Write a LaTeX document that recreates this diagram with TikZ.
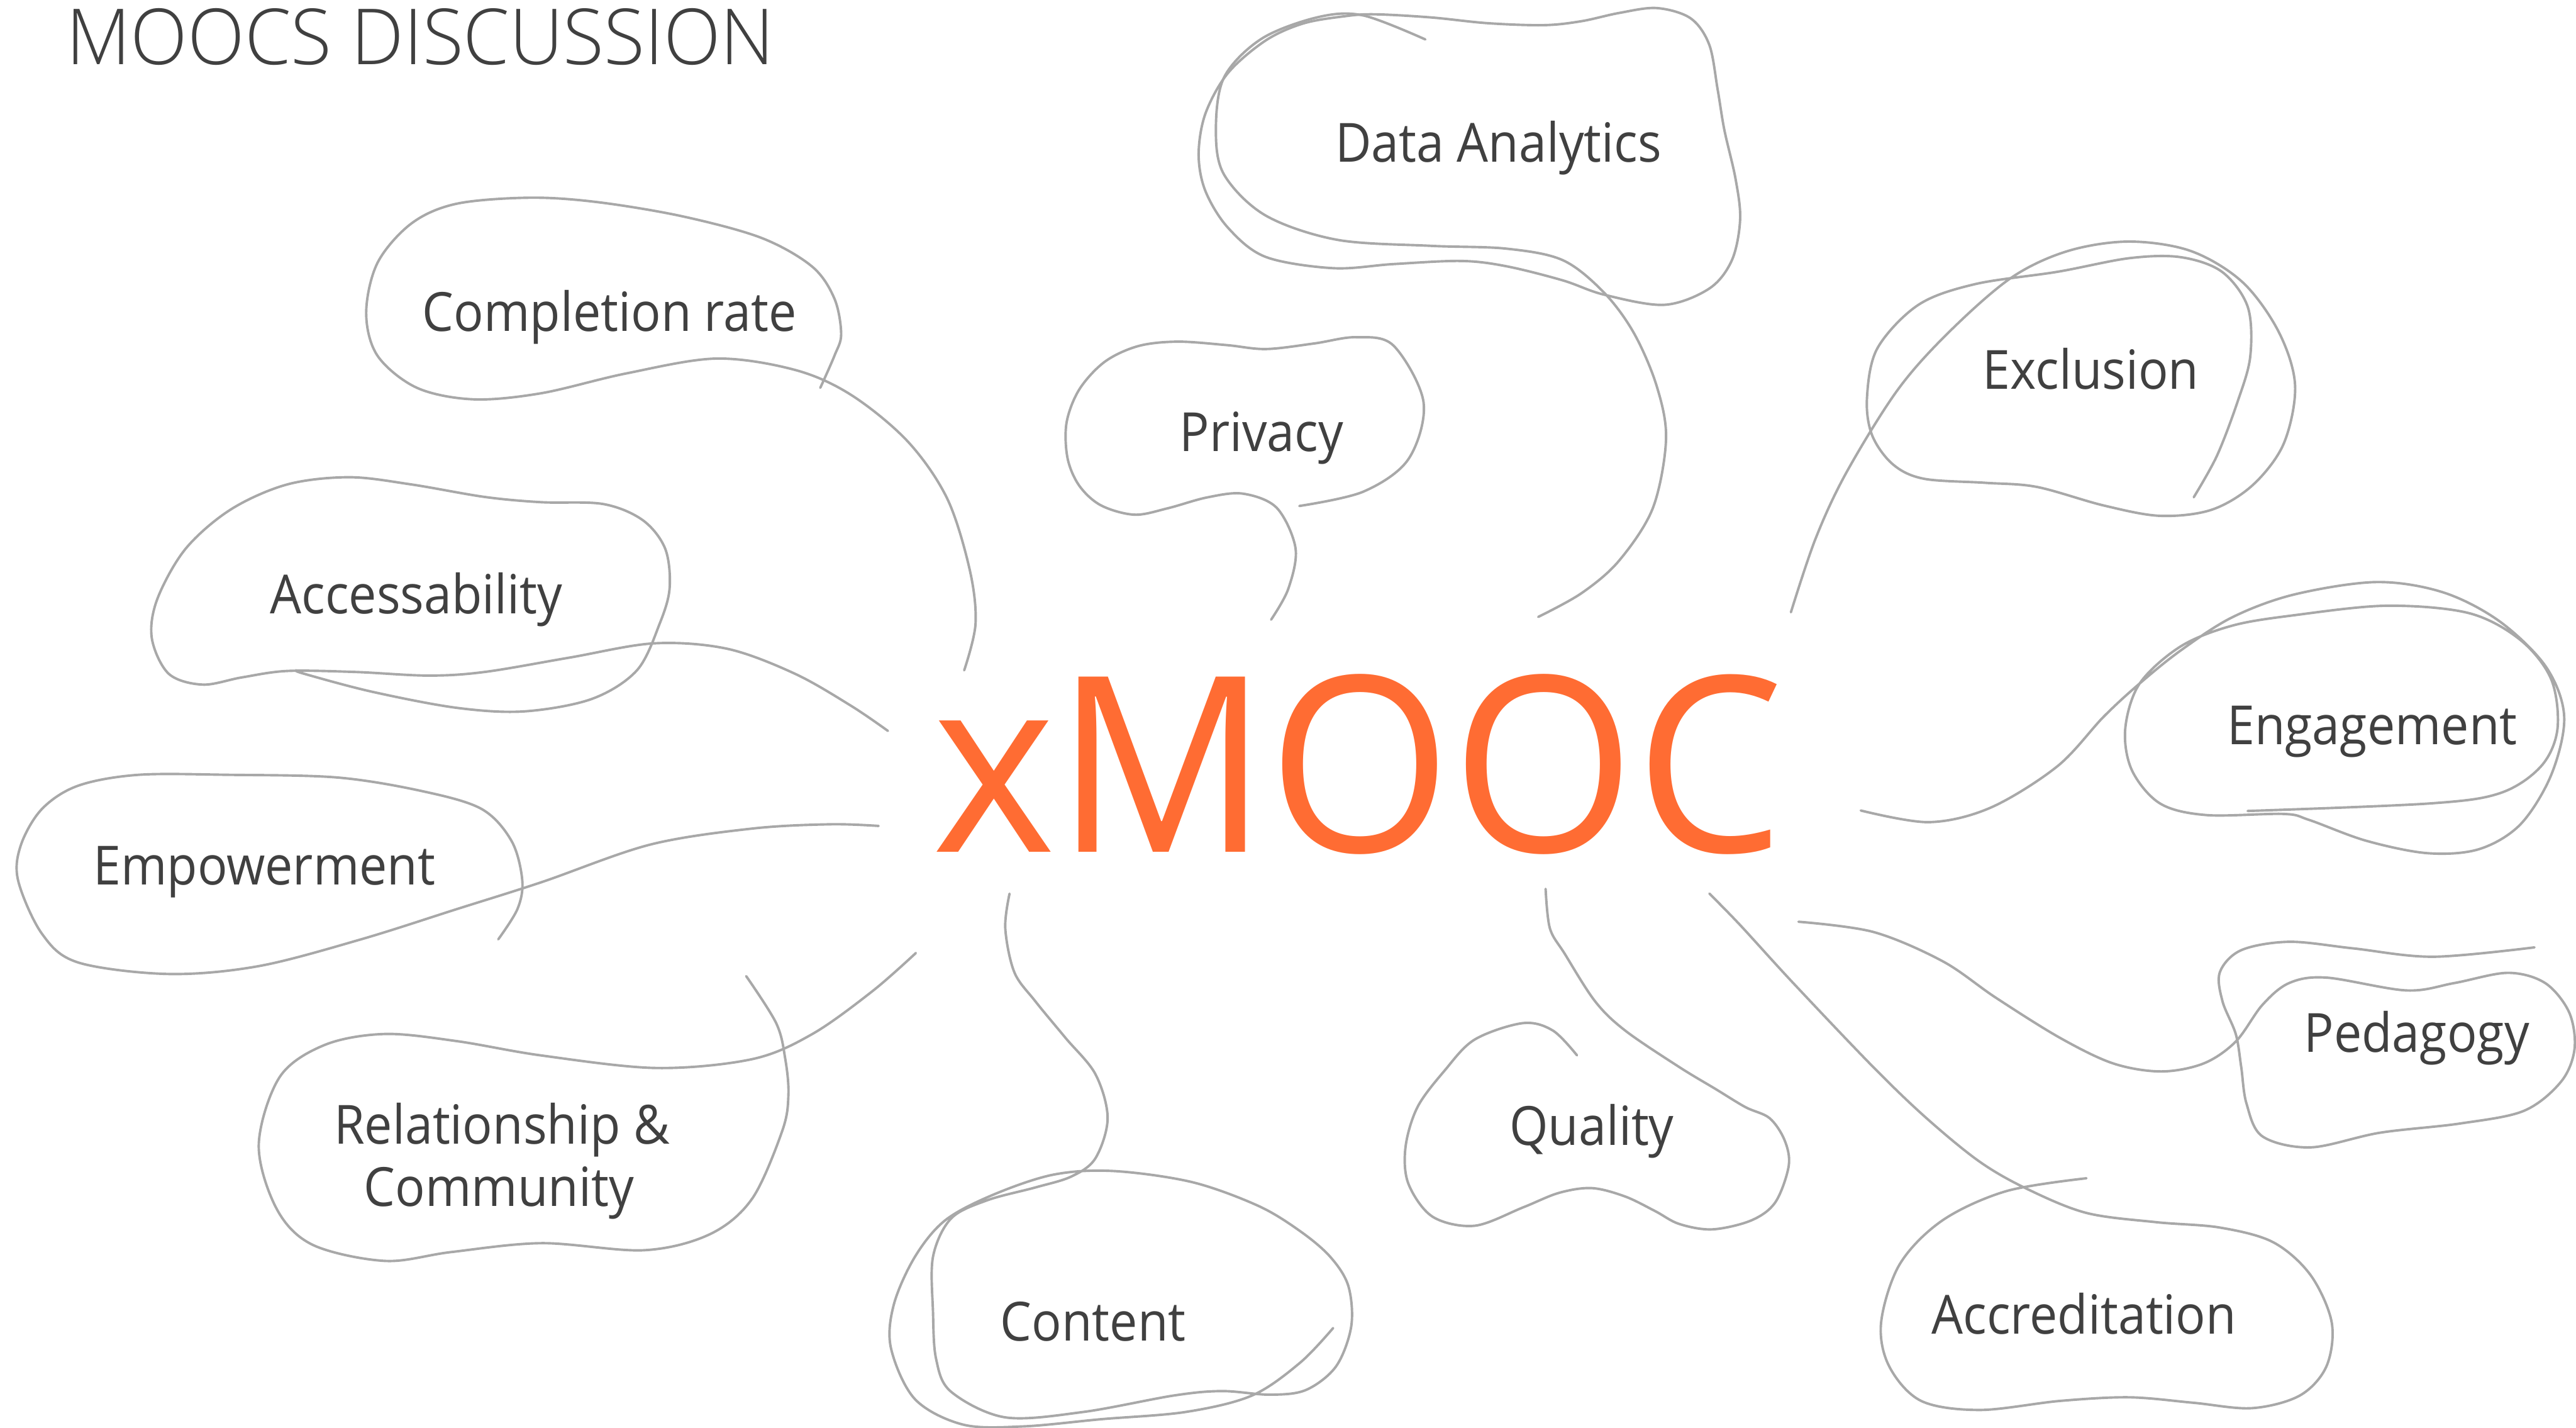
\documentclass[tikz,border=0pt]{standalone}
\usepackage{fontspec}
\setmainfont{Open Sans}
\newfontfamily\lblfont[FakeStretch=0.92]{Open Sans}
\newfontfamily\titlefont[FakeStretch=0.965]{Open Sans Light}
\newfontfamily\herofont[FakeStretch=0.96]{Open Sans}
\definecolor{linegray}{HTML}{A8A8A8}
\definecolor{textgray}{HTML}{404040}
\definecolor{moocorange}{HTML}{FF6C33}
\tikzset{
  sketch/.style={draw=linegray, line width=0.85pt, line cap=round, line join=round},
  lbl/.style={anchor=base west, inner sep=0pt, outer sep=0pt, text=textgray,
              font=\lblfont\fontsize{18.7}{22}\selectfont},
}
\begin{document}
\begin{tikzpicture}[x=0.02cm, y=-0.02cm]
\useasboundingbox (0,0) rectangle (1568,868.7);

% heading and centre word
\node[anchor=base west, inner sep=0pt, text=textgray,
      font=\titlefont\fontsize{26.8}{30}\selectfont] (title) at (40,39.2) {MOOCS DISCUSSION};
\node[anchor=base west, inner sep=0pt, text=moocorange,
      font=\herofont\fontsize{85}{90}\selectfont] (xmooc) at (567,518.7) {xMOOC};

% topic labels
\node[lbl] (data)   at (812.7,98.4)  {Data Analytics};
\node[lbl] (priv)   at (718.0,274.6) {Privacy};
\node[lbl] (compl)  at (257.2,201.7) {Completion rate};
\node[lbl] (access) at (164.5,373.5) {Accessability};
\node[lbl] (empow)  at (56.8,538.3)  {Empowerment};
\node[lbl] (rel)    at (203.3,696.0) {Relationship \&};
\node[lbl] (comm)   at (221.6,734.1) {Community};
\node[lbl] (cont)   at (609.0,815.9) {Content};
\node[lbl] (qual)   at (918.8,697.0) {Quality};
\node[lbl] (excl)   at (1206.9,236.6) {Exclusion};
\node[lbl] (engage) at (1355.6,453.2) {Engagement};
\node[lbl] (peda)   at (1402.5,640.4) {Pedagogy};
\node[lbl] (accr)   at (1175.9,811.9) {Accreditation};

% Data Analytics: closed outer loop
\draw[sketch] plot[smooth cycle, tension=0.55] coordinates {
 (818.4,9.9) (836.7,8.7) (871.0,10.6) (905.4,14.1) (939.7,15.3) (962.6,12.9)
 (985.5,7.9) (1008.4,4.9) (1029.0,11.1) (1040.4,27.2) (1045.5,54.4) (1049.6,79.1)
 (1056.4,108.8) (1059.2,133.5) (1054.2,158.3) (1040.4,175.6) (1013.0,185.5)
 (976.3,179.3) (951.2,170.6) (916.8,162.0) (889.3,158.8) (848.1,160.7)
 (811.5,163.2) (770.3,156.3) (747.4,138.5) (733.7,116.2) (729.6,94.0)
 (733.7,69.2) (747.4,44.5) (770.3,24.7) (793.2,14.3)};
% Data Analytics: inner stroke running down to the centre
\draw[sketch] plot[smooth, tension=0.55] coordinates {
 (867.6,24.0) (829.8,9.4) (802.4,10.4) (768.0,23.5) (745.1,47.0) (740.1,79.1)
 (745.1,106.3) (770.3,131.1) (813.8,145.9) (871.0,149.6) (916.8,151.3)
 (951.2,158.3) (976.3,178.0) (994.6,202.8) (1008.4,234.9) (1014.1,267.1)
 (1006.1,309.1) (985.5,341.2) (962.6,361.0) (936.3,375.4)};

% Privacy
\draw[sketch] plot[smooth, tension=0.55] coordinates {
 (790.9,307.9) (829.8,299.2) (857.3,279.4) (866.5,244.8) (848.1,210.2)
 (825.3,205.2) (800.0,209.0) (770.6,212.4) (746.7,210.0) (716.8,207.9)
 (692.8,210.6) (672.5,220.1) (657.0,236.9) (649.2,257.2) (649.8,278.8)
 (656.9,295.5) (670.1,307.5) (690.5,313.2) (710.8,309.3) (734.7,302.7)
 (756.6,300.4) (777.2,309.1) (788.6,333.8) (784.1,358.5) (773.7,377.1)};

% Completion rate
\draw[sketch] plot[smooth, tension=0.55] coordinates {
 (499.3,236.0) (507.9,216.5) (512.0,203.4) (507.9,181.7) (494.2,162.1)
 (463.3,144.7) (415.2,131.6) (363.7,123.0) (322.5,120.3) (277.8,124.0)
 (250.4,136.0) (229.8,159.9) (222.9,190.4) (229.8,216.5) (253.8,236.0)
 (288.1,243.0) (329.4,239.3) (380.9,227.3) (435.8,218.2) (483.9,225.1)
 (518.2,240.4) (552.6,268.7) (576.6,303.5) (590.3,346.9) (593.8,379.6)
 (586.9,407.9)};

% Accessability
\draw[sketch] plot[smooth, tension=0.55] coordinates {
 (180.3,407.9) (185.1,410.0) (226.3,420.9) (277.8,430.7) (319.0,432.9)
 (360.3,425.3) (387.7,407.9) (401.5,379.6) (407.6,357.8) (404.9,333.9)
 (391.2,316.5) (367.1,306.7) (329.4,305.6) (295.0,302.4) (250.4,294.8)
 (212.6,290.4) (174.8,294.8) (140.5,310.0) (113.0,333.9) (95.8,364.4)
 (92.4,388.3) (102.7,410.0) (123.3,416.6) (147.3,412.2) (174.8,408.3)
 (216.0,408.9) (260.7,411.1) (295.0,408.9) (346.5,400.2) (398.0,391.5)
 (442.7,394.8) (483.9,410.0) (518.2,429.6) (540.5,444.8)};

% Empowerment
\draw[sketch] plot[smooth, tension=0.55] coordinates {
 (303.3,571.6) (315.0,553.1) (317.9,535.7) (311.4,511.8) (293.0,492.2)
 (256.4,481.3) (205.1,473.1) (139.2,471.5) (84.2,471.5) (47.6,478.1)
 (25.6,492.2) (12.8,514.0) (11.0,535.7) (25.6,568.3) (47.6,585.7)
 (102.6,592.7) (157.5,587.9) (219.8,571.6) (278.4,553.1) (329.7,536.8)
 (395.6,514.0) (457.9,504.2) (505.5,501.6) (534.8,502.6)};

% Relationship & Community
\draw[sketch] plot[smooth, tension=0.55] coordinates {
 (454.2,594.0) (472.5,622.7) (478.0,644.5) (479.9,666.2) (476.2,688.0)
 (457.9,729.3) (432.2,751.0) (391.9,760.8) (329.7,756.5) (274.7,761.9)
 (234.4,767.3) (190.5,757.6) (168.5,735.8) (157.5,696.7) (170.3,655.3)
 (197.8,635.8) (234.4,629.2) (278.4,633.6) (329.7,642.3) (399.3,649.9)
 (457.9,644.5) (494.5,629.2) (531.1,603.1) (557.5,579.9)};

% Content
\draw[sketch] plot[smooth, tension=0.55] coordinates {
 (614.5,543.8) (611.9,564.9) (617.4,591.6) (630.2,609.3) (648.5,631.5)
 (666.8,653.7) (674.2,680.4) (666.8,704.8) (652.2,715.9) (630.2,722.6)
 (600.9,730.4) (578.9,741.5) (567.9,764.8) (567.9,798.1) (569.8,827.0)
 (578.9,846.9) (611.9,862.5) (659.5,859.2) (714.5,849.2) (743.8,846.5)
 (773.1,848.7) (795.0,845.8) (813.3,831.4) (822.5,807.0) (820.7,782.5)
 (809.7,764.8) (791.4,749.2) (765.7,733.7) (725.4,719.3) (677.8,712.6)
 (641.2,714.8) (604.6,727.0) (575.3,742.6) (556.9,764.8) (544.1,793.7)
 (542.3,820.3) (556.9,851.4) (586.2,866.9) (622.9,868.0) (670.5,863.6)
 (721.8,859.2) (762.1,849.2) (791.4,829.2) (811.5,808.1)};

% Quality
\draw[sketch] plot[smooth, tension=0.55] coordinates {
 (940.8,540.9) (943.4,564.9) (952.5,580.5) (970.9,609.3) (989.2,627.1)
 (1022.1,649.3) (1044.1,662.6) (1062.4,673.7) (1077.1,680.4) (1086.2,693.7)
 (1088.8,709.3) (1080.7,731.5) (1066.1,742.6) (1042.3,748.1) (1022.1,744.8)
 (1007.5,737.0) (989.2,728.1) (969.0,723.0) (948.9,725.9) (926.9,734.8)
 (897.6,745.9) (872.0,740.4) (857.3,720.4) (855.5,698.2) (862.8,673.7)
 (879.3,651.5) (897.6,632.6) (926.9,622.6) (945.2,627.1) (959.9,642.2)};

% Exclusion
\draw[sketch] plot[smooth, tension=0.55] coordinates {
 (1090.1,372.6) (1105.1,327.8) (1123.9,287.5) (1155.2,237.1) (1186.5,201.9)
 (1224.1,169.1) (1258.5,152.8) (1296.1,147.0) (1333.7,152.8) (1365.0,171.7)
 (1387.0,201.9) (1397.0,234.6) (1390.1,269.9) (1371.3,295.1) (1346.2,310.2)
 (1314.9,313.9) (1280.5,307.6) (1239.8,296.3) (1208.4,293.8) (1170.9,291.3)
 (1152.1,282.5) (1139.5,264.8) (1136.4,242.2) (1142.7,212.0) (1167.7,185.5)
 (1202.2,172.9) (1252.3,165.4) (1296.1,157.1) (1327.4,156.5) (1352.5,165.4)
 (1368.2,186.8) (1369.7,217.0) (1361.9,244.7) (1349.4,277.4) (1335.3,302.6)};

% Engagement
\draw[sketch] plot[smooth, tension=0.55] coordinates {
 (1132.6,493.2) (1174.0,500.3) (1211.6,491.5) (1252.3,466.3) (1280.5,436.1)
 (1302.4,415.9) (1327.4,395.8) (1358.8,375.6) (1396.3,361.8) (1446.5,354.2)
 (1487.2,360.5) (1521.6,378.2) (1549.8,405.9) (1560.8,436.1) (1553.0,471.3)
 (1534.2,501.6) (1509.1,516.7) (1477.8,519.2) (1440.2,511.6) (1405.7,499.0)
 (1390.1,495.3) (1343.1,496.0) (1314.9,489.0) (1297.7,468.8) (1293.6,443.6)
 (1302.4,415.9) (1327.4,393.3) (1358.8,380.7) (1396.3,374.4) (1452.7,368.6)
 (1502.8,373.1) (1534.2,389.5) (1552.9,413.4) (1556.7,443.6) (1546.7,466.3)
 (1521.6,482.7) (1477.8,489.0) (1368.1,493.5)};

% Pedagogy
\draw[sketch] plot[smooth, tension=0.55] coordinates {
 (1094.7,560.9) (1140.2,567.1) (1182.4,584.9) (1214.8,607.1) (1253.8,631.5)
 (1286.2,647.1) (1315.5,652.0) (1341.4,647.1) (1360.9,633.8) (1377.1,611.5)
 (1393.4,598.2) (1416.1,594.9) (1464.8,602.7) (1494.0,598.2) (1526.5,592.0)
 (1549.2,598.2) (1563.8,616.0) (1567.1,638.2) (1558.9,658.2) (1536.2,676.0)
 (1497.3,683.7) (1448.6,689.3) (1406.4,698.2) (1377.1,691.5) (1367.4,671.5)
 (1364.2,649.3) (1360.9,629.3) (1352.8,609.3) (1351.2,591.6) (1364.2,578.2)
 (1393.4,573.1) (1432.3,577.1) (1481.0,582.2) (1542.7,576.5)};

% Accreditation
\draw[sketch] plot[smooth, tension=0.55] coordinates {
 (1040.5,543.8) (1059.0,562.7) (1091.5,598.2) (1140.2,649.3) (1172.6,680.4)
 (1205.1,707.0) (1234.3,723.7) (1270.0,738.1) (1312.2,743.7) (1351.2,747.0)
 (1383.6,755.9) (1406.4,775.9) (1419.3,804.8) (1416.1,831.4) (1399.9,849.2)
 (1370.7,856.9) (1334.9,853.6) (1296.0,850.3) (1253.8,852.5) (1205.1,858.0)
 (1169.4,852.5) (1149.9,831.4) (1145.0,804.8) (1156.4,769.2) (1182.4,742.6)
 (1221.3,724.8) (1270.0,717.0)};
\end{tikzpicture}
\end{document}
